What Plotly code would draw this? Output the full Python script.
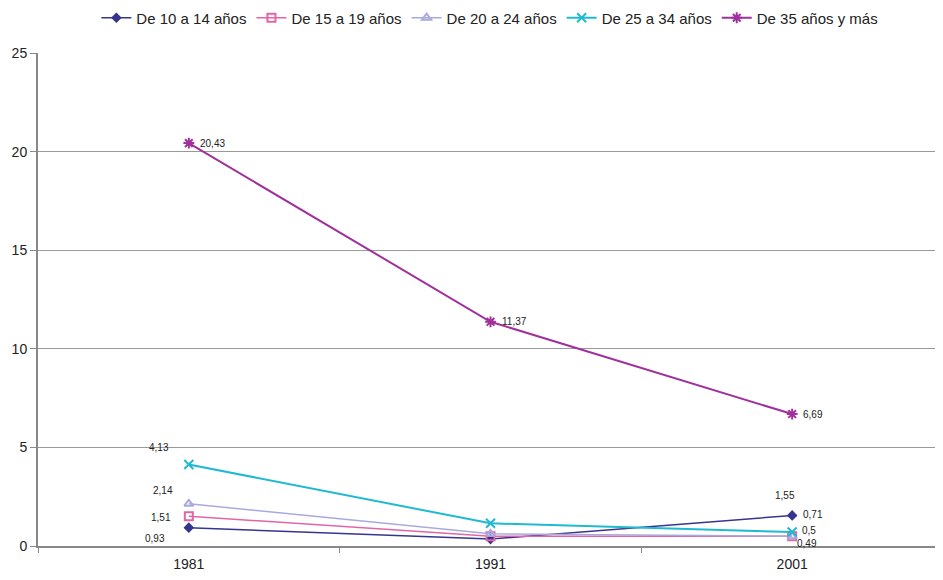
import plotly.graph_objects as go

years = ["1981", "1991", "2001"]
s_10_14 = [0.93, 0.35, 1.55]
s_15_19 = [1.51, 0.50, 0.50]
s_20_24 = [2.14, 0.62, 0.49]
s_25_34 = [4.13, 1.15, 0.71]
s_35_mas = [20.43, 11.37, 6.69]
names = ["De 10 a 14 años", "De 15 a 19 años", "De 20 a 24 años", "De 25 a 34 años", "De 35 años y más"]
y_ticks = [0, 5, 10, 15, 20, 25]

colors = ["#35358f", "#e066a6", "#a9a9dd", "#1fbad2", "#a0309c"]
symbols = ["diamond", "square-open", "triangle-up-open", "x-thin", "asterisk"]
sizes = [6, 8, 8, 9, 9]
widths = [1.5, 1.5, 1.5, 2, 2]
series = [s_10_14, s_15_19, s_20_24, s_25_34, s_35_mas]

fig = go.Figure()
for name, vals, c, sym, sz, w in zip(names, series, colors, symbols, sizes, widths):
    fig.add_trace(go.Scatter(
        x=years, y=vals, name=name, mode="lines+markers",
        line=dict(color=c, width=w),
        marker=dict(symbol=sym, size=sz, color=c, line=dict(color=c, width=2)),
    ))

# data labels (positions as shown in the reference)
labels = [
    ("20,43", 0.03, 20.43, "left"),
    ("11,37", 1.033, 11.37, "left"),
    ("6,69", 2.03, 6.69, "left"),
    ("4,13", -0.10, 5.02, "center"),
    ("2,14", -0.086, 2.84, "center"),
    ("1,51", -0.093, 1.47, "center"),
    ("0,93", -0.113, 0.40, "center"),
    ("1,55", 1.977, 2.54, "center"),
    ("0,71", 2.03, 1.62, "left"),
    ("0,5", 2.027, 0.81, "left"),
    ("0,49", 2.01, 0.15, "left"),
]
for txt, xv, yv, al in labels:
    fig.add_annotation(x=xv, y=yv, xref="x", yref="y", text=txt, showarrow=False,
                       xanchor=al, yanchor="middle",
                       font=dict(family="Liberation Sans, Arial", size=10, color="#222"))

fig.update_layout(
    width=943, height=580,
    margin=dict(l=30, r=8, t=45, b=42, autoexpand=False),
    paper_bgcolor="white", plot_bgcolor="white",
    font=dict(family="Liberation Sans, Arial", size=14, color="#222"),
    showlegend=True,
    legend=dict(orientation="h", x=0.511, xanchor="center", xref="container",
                y=1 - 10 / 580, yanchor="middle", yref="container",
                font=dict(size=15), itemwidth=30, tracegroupgap=0),
)

fig.update_xaxes(type="category", range=[-0.5, 2.5], tickson="boundaries", ticks="outside",
                 ticklen=5, tickcolor="#888", showline=True, linecolor="#888", linewidth=2,
                 showgrid=False, tickfont=dict(size=14), automargin=False,
                 ticklabelstandoff=4)
fig.update_yaxes(range=[0, 25], tickvals=y_ticks, ticks="outside", ticklen=6, tickcolor="#888",
                 showline=True, linecolor="#888", linewidth=2, showgrid=True,
                 gridcolor="#999", gridwidth=1, zeroline=False, tickfont=dict(size=14),
                 automargin=False)

fig.write_html("out.html")
